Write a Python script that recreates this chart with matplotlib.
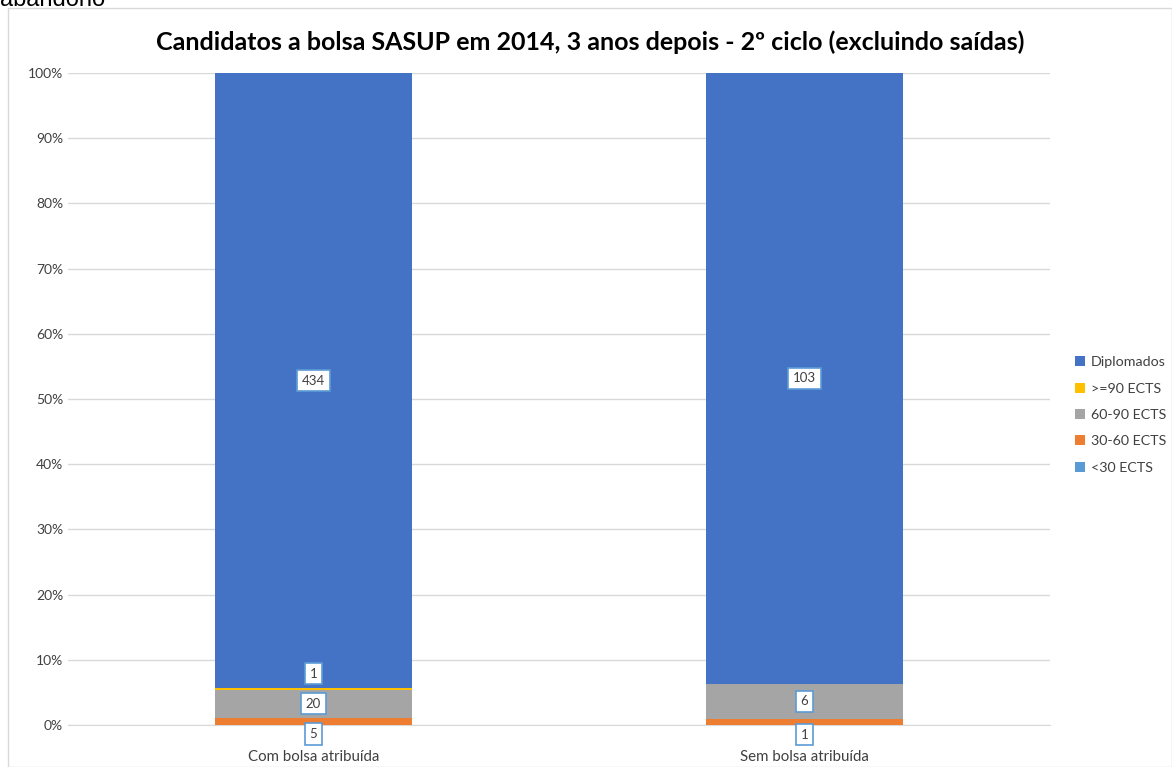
import matplotlib.pyplot as plt
from matplotlib.patches import Rectangle

plt.rcParams['font.family'] = ['Lato', 'DejaVu Sans']

categorias = ["Com bolsa atribuída", "Sem bolsa atribuída"]
series = ["<30 ECTS", "30-60 ECTS", "60-90 ECTS", ">=90 ECTS", "Diplomados"]
valores = {
    "<30 ECTS": [0, 0],
    "30-60 ECTS": [5, 1],
    "60-90 ECTS": [20, 6],
    ">=90 ECTS": [1, 0],
    "Diplomados": [434, 103],
}
cores = {
    "<30 ECTS": "#5B9BD5",
    "30-60 ECTS": "#ED7D31",
    "60-90 ECTS": "#A5A5A5",
    ">=90 ECTS": "#FFC000",
    "Diplomados": "#4472C4",
}
# deslocamento vertical (pontos) das etiquetas pequenas, como no Excel
desloc = {"30-60 ECTS": -9, ">=90 ECTS": 11}

fig = plt.figure(figsize=(11.72, 7.67), dpi=100)
ax = fig.add_axes([68/1172, 42/767, 982/1172, 652/767])

# moldura do gráfico
fig.patches.append(Rectangle((8/1172, 0), 1 - 8/1172, 1 - 8/767, transform=fig.transFigure,
                             fill=False, edgecolor="#D9D9D9", linewidth=1))
fig.text(0.0, 1 - 6/767, "abandono", fontsize=17, family="Liberation Sans", va="baseline", color="black")

totais = [sum(valores[s][i] for s in series) for i in range(len(categorias))]
x = list(range(len(categorias)))
base = [0.0] * len(categorias)
for s in series:
    frac = [valores[s][i] / totais[i] for i in x]
    ax.bar(x, frac, bottom=base, width=0.4, color=cores[s], label=s, zorder=3)
    for i in x:
        v = valores[s][i]
        if v == 0:
            continue
        yc = base[i] + frac[i] / 2
        ax.annotate(str(v), (i, yc), xytext=(0, desloc.get(s, 0)), textcoords="offset points",
                    ha="center", va="center", fontsize=9.5, color="#404040", zorder=5,
                    bbox=dict(boxstyle="square,pad=0.35", fc="white", ec="#5B9BD5", lw=1.2))
    base = [base[i] + frac[i] for i in x]

ax.set_xlim(-0.5, 1.5)
ax.set_ylim(0, 1)
ax.set_yticks([i / 10 for i in range(11)])
ax.set_yticklabels([f"{i*10}%" for i in range(11)])
ax.set_xticks(x)
ax.set_xticklabels(categorias)
ax.tick_params(length=0, labelsize=10, labelcolor="#404040")
ax.tick_params(axis="x", pad=18, labelsize=10.8)
ax.grid(axis="y", color="#D9D9D9", linewidth=1, zorder=0)
for sp in ["top", "right", "left"]:
    ax.spines[sp].set_visible(False)
ax.spines["bottom"].set_color("#D9D9D9")

fig.text(590/1172, 1 - 42/767, "Candidatos a bolsa SASUP em 2014, 3 anos depois - 2º ciclo (excluindo saídas)",
         ha="center", va="center", fontsize=18, fontweight="bold")

h, l = ax.get_legend_handles_labels()
fig.legend(h[::-1], l[::-1], loc="center left", bbox_to_anchor=(1062/1172, 1 - 415/767), frameon=False,
           fontsize=10.3, handlelength=0.7, handleheight=0.7, labelspacing=1.0, handletextpad=0.4,
           labelcolor="#404040")

fig.savefig("out.png", dpi=100)
